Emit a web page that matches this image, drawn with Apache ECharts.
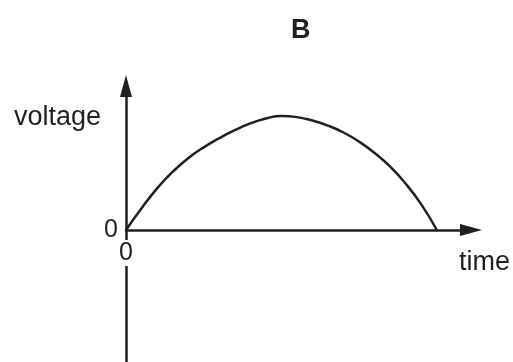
<!DOCTYPE html>
<html><head><meta charset="utf-8">
<script src="https://cdn.jsdelivr.net/npm/echarts@6/dist/echarts.min.js"></script>
<style>html,body{margin:0;padding:0;background:#fff}#c{width:513px;height:362px}</style>
</head><body><div id="c"></div>
<script>
const titleText = 'B';
const xName = 'time';
const yName = 'voltage';
const times = [0, 0.5, 1, 1.5, 2, 2.5, 3, 3.5, 4, 4.5, 5, 5.5, 6, 6.5, 7, 7.5, 8, 8.5, 9, 9.5, 10];
const voltages = [0, 0.19, 0.365, 0.51, 0.63, 0.725, 0.805, 0.875, 0.935, 0.978, 1.0, 0.99, 0.96, 0.915, 0.855, 0.775, 0.675, 0.555, 0.405, 0.225, 0];
const xTickLabels = [0];
const yTickLabels = [0];

const ink = '#231f20';
const font = '"Liberation Sans", Arial, sans-serif';
const chart = echarts.init(document.getElementById('c'), null, {renderer: 'canvas'});
chart.setOption({
  animation: false,
  backgroundColor: '#fff',
  title: {
    text: titleText, left: 286, top: 12,
    textStyle: {fontFamily: font, fontSize: 27, fontWeight: 'bold', color: ink}
  },
  grid: {left: 126, right: 42, top: 86, bottom: 0, containLabel: false, outerBoundsMode: 'none'},
  xAxis: {
    type: 'value', min: 0, max: 11.1, z: 5,
    position: 'bottom', offset: -132,
    axisLine: {onZero: false, lineStyle: {color: ink, width: 2.5}, symbol: ['none', 'triangle'], symbolSize: [12, 22]},
    axisTick: {show: false},
    splitLine: {show: false},
    axisLabel: {customValues: xTickLabels, margin: 10, fontFamily: font, fontSize: 25, color: ink,
      backgroundColor: '#fff', lineHeight: 26, padding: [0, 1]}
  },
  yAxis: {
    type: 'value', min: -1.158, max: 1.263, z: 1,
    axisLine: {show: true, lineStyle: {color: ink, width: 2.5}, symbol: ['none', 'triangle'], symbolSize: [12, 22]},
    axisTick: {show: false},
    splitLine: {show: false},
    axisLabel: {customValues: yTickLabels, margin: 8, fontFamily: font, fontSize: 25, color: ink}
  },
  graphic: [
    {type: 'text', left: 14, top: 104, style: {text: yName, font: '27px ' + font, fill: ink}},
    {type: 'text', left: 459, top: 249, style: {text: xName, font: '27px ' + font, fill: ink}}
  ],
  series: [{
    type: 'line', data: times.map((t, i) => [t, voltages[i]]),
    smooth: 0.5, showSymbol: false, symbol: 'none', z: 3,
    lineStyle: {color: ink, width: 2.5}
  }]
});
</script></body></html>
